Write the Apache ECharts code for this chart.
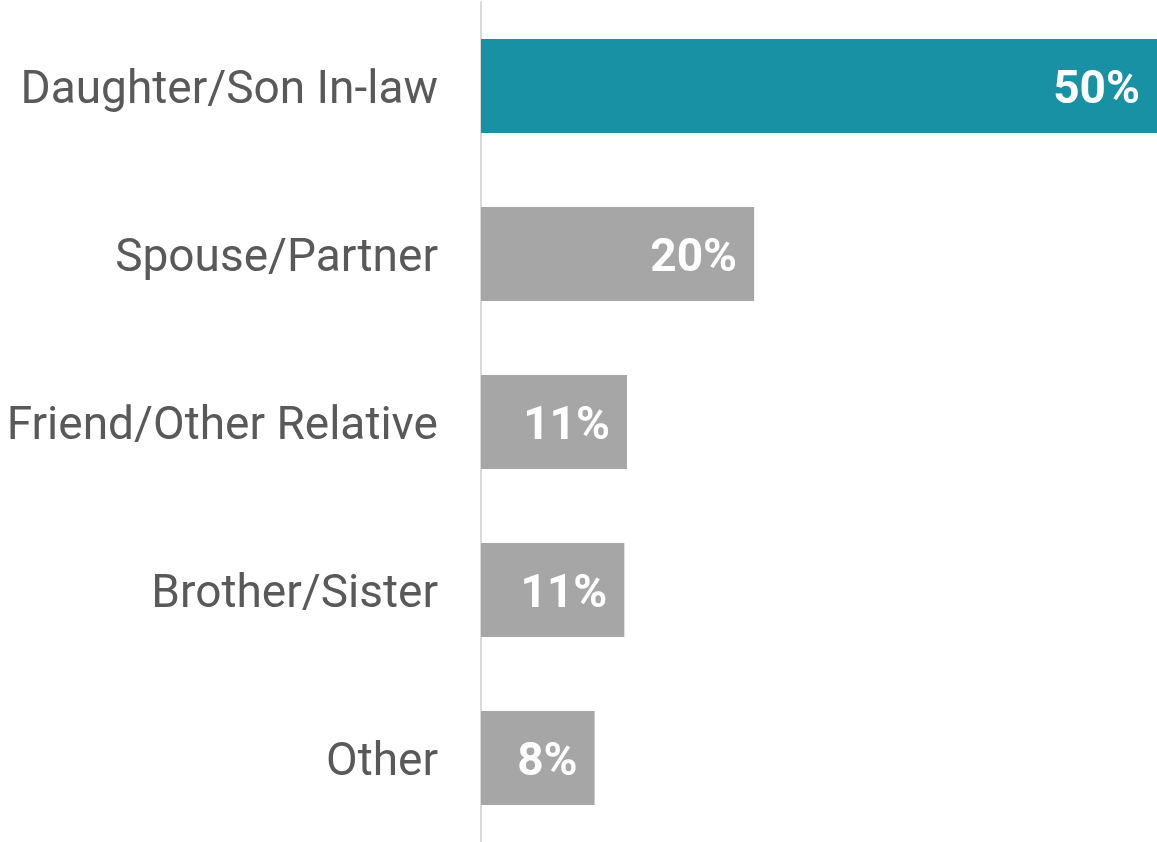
<!DOCTYPE html>
<html>
<head>
<meta charset="utf-8">
<script src="https://cdn.jsdelivr.net/npm/echarts@6/dist/echarts.min.js"></script>
<style>
  html, body { margin: 0; padding: 0; background: #fff; }
  #chart { width: 1157px; height: 842px; }
</style>
</head>
<body>
<div id="chart"></div>
<script>
const categories = [
  "Daughter/Son In-law",
  "Spouse/Partner",
  "Friend/Other Relative",
  "Brother/Sister",
  "Other",
];
// bar lengths (labels show them rounded)
const values = [50, 20.2, 10.8, 10.6, 8.4];
const barColors = ["#1791A3", "#A6A6A6", "#A6A6A6", "#A6A6A6", "#A6A6A6"];

const chart = echarts.init(document.getElementById("chart"));

const option = {
  animation: false,
  grid: { left: 481, right: 0, top: 2, bottom: 0, containLabel: false },
  xAxis: {
    type: "value",
    min: 0,
    max: 50,
    show: false,
  },
  yAxis: {
    type: "category",
    inverse: true,
    data: categories,
    axisLine: { show: true, lineStyle: { color: "#D9D9D9", width: 2 } },
    axisTick: { show: false },
    axisLabel: {
      margin: 43,
      formatter: (v) => "{c|" + v + "}",
      rich: {
        c: {
          color: "#595959",
          fontFamily: "Roboto",
          fontSize: 46,
          padding: [10, 0, 0, 0],
        },
      },
    },
  },
  series: [
    {
      type: "bar",
      barWidth: 94,
      data: values.map((v, i) => ({ value: v, itemStyle: { color: barColors[i] } })),
      label: {
        show: true,
        position: "insideRight",
        distance: 17,
        offset: [0, 5],
        color: "#fff",
        fontFamily: "Roboto",
        fontWeight: "bold",
        fontSize: 46,
        formatter: (p) => Math.round(p.value) + "%",
      },
    },
  ],
};

chart.setOption(option);
</script>
</body>
</html>
